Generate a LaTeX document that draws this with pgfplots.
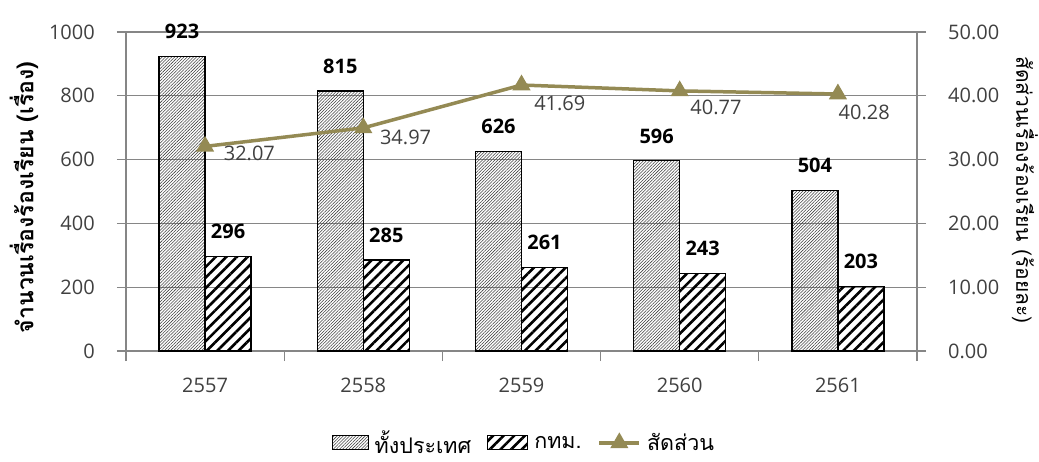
\documentclass[border=0pt]{standalone}
\usepackage{fontspec}
\setmainfont{Open Sans}
\newfontfamily\thai[Script=Thai]{Loma}
\usepackage{pgfplots}
\usepackage{pgfplotstable}
\pgfplotsset{compat=1.18}
\usetikzlibrary{patterns.meta}

\definecolor{olive}{RGB}{148,138,84}
\definecolor{gridgray}{RGB}{134,134,134}
\definecolor{txt}{RGB}{64,64,64}

\newcommand{\sz}{\fontsize{20bp}{24bp}\selectfont}

% complaints per year: whole country / Bangkok
\pgfplotstableread{
x total bkk
0 923 296
1 815 285
2 626 261
3 596 243
4 504 203
}\complaints

% share of Bangkok (percent), dx/dy = label offsets
\pgfplotstableread{
x ratio dx dy
0 32.07 17 -6.5
1 34.97 15 -10
2 41.69 11 -18
3 40.77 9 -17
4 40.28 -1 -18
}\share

\tikzset{
  fine/.style={pattern={Lines[angle=45,distance=2.2bp,line width=0.55bp]},pattern color=black!75},
  coarse/.style={pattern={Lines[angle=45,distance=7.5bp,line width=2.6bp]},pattern color=black},
  shareline/.style={olive, line width=3.5bp, mark=triangle*, mark size=7bp},
}

\begin{document}
\begin{tikzpicture}
\pgfplotsset{
  common/.style={
    scale only axis, width=791bp, height=319bp,
    xmin=-0.5, xmax=4.5,
    clip=false,
    font=\sz,
    /pgf/number format/assume math mode=true,
    /pgf/number format/1000 sep={},
    axis line style={gridgray, line width=1.2bp},
    tick align=outside,
    major tick length=9bp,
    minor tick length=10bp,
    tick style={gridgray, line width=1.2bp},
    tick label style={text=txt},
  },
}
\begin{axis}[
  common,
  ymin=0, ymax=1000,
  ybar=0pt, bar width=46bp,
  axis x line*=bottom, axis y line*=left,
  xtick={0,...,4},
  xticklabels={2557,2558,2559,2560,2561},
  minor xtick={-0.5,0.5,...,4.5},
  major x tick style={draw=none},
  xticklabel style={inner sep=0pt, yshift=-18bp},
  ytick={0,200,...,1000},
  yticklabel style={inner sep=0pt, xshift=-22bp},
  ymajorgrids, grid style={gridgray, line width=1.2bp},
  ylabel={\thai\bfseries\fontsize{23bp}{26bp}\selectfont จำนวนเรื่องร้องเรียน (เรื่อง)},
  ylabel style={at={(rel axis cs:0,0.481)}, anchor=center, yshift=102bp},
  nodes near coords,
  every node near coord/.append style={font=\bfseries\sz, text=black, anchor=south, inner sep=0pt, yshift=17bp},
]
\addplot[draw=black, line width=1.2bp, fine] table[x=x, y=total] {\complaints};
\addplot[draw=black, line width=1.2bp, coarse] table[x=x, y=bkk] {\complaints};
\end{axis}

\begin{axis}[
  common,
  ymin=0, ymax=50,
  axis x line=none, axis y line*=right,
  ytick={0,10,...,50},
  yticklabel style={inner sep=0pt, xshift=22bp, /pgf/number format/.cd, fixed, fixed zerofill, precision=2},
  ylabel={\thai\fontsize{21bp}{24bp}\selectfont สัดส่วนเรื่องร้องเรียน (ร้อยละ)},
  ylabel style={at={(rel axis cs:1,0.505)}, anchor=center, rotate=180, yshift=108bp},
  legend style={at={(rel axis cs:0.503,-0.288)}, anchor=center, draw=none, fill=none,
    legend columns=-1, font=\thai\fontsize{21.5bp}{24bp}\selectfont,
    /tikz/every odd column/.append style={column sep=4bp},
    /tikz/every even column/.append style={column sep=14bp}},
]
\addlegendimage{legend image code/.code={\draw[draw=black, line width=1bp, fine] (0bp,-7bp) rectangle (36bp,7bp);}}
\addlegendentry{ทั้งประเทศ}
\addlegendimage{legend image code/.code={\draw[draw=black, line width=1bp, coarse] (0bp,-7bp) rectangle (40bp,7bp);}}
\addlegendentry{กทม.}
\addplot[shareline,
  legend image code/.code={\draw[shareline, mark repeat=2, mark phase=2] plot coordinates {(0bp,0bp) (20bp,0bp) (40bp,0bp)};},
  visualization depends on={\thisrow{dx}\as\dx},
  visualization depends on={\thisrow{dy}\as\dy},
  point meta=y,
  nodes near coords={\pgfmathprintnumber[fixed, fixed zerofill, precision=2]{\pgfplotspointmeta}},
  every node near coord/.append style={anchor=west, inner sep=0pt, text=txt, font=\sz, xshift=\dx bp, yshift=\dy bp},
] table[x=x, y=ratio] {\share};
\addlegendentry{สัดส่วน}
\end{axis}
\pgfresetboundingbox
\useasboundingbox (-126bp,-111bp) rectangle (913bp,351bp);
\end{tikzpicture}
\end{document}
